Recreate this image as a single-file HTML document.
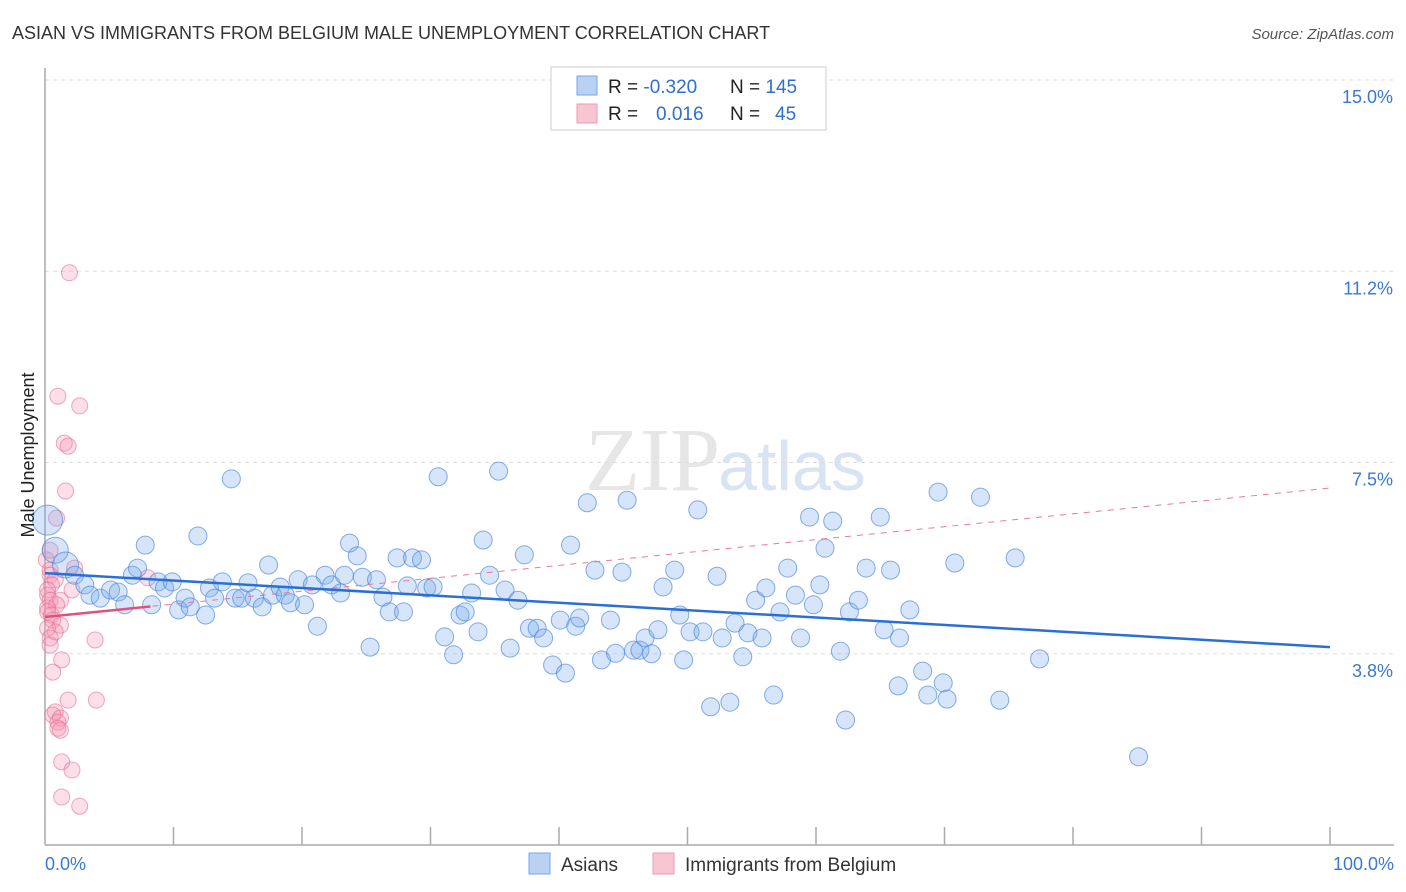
<!DOCTYPE html>
<html><head><meta charset="utf-8">
<style>
body{margin:0;background:#fff;font-family:"Liberation Sans",sans-serif;}
#wrap{position:relative;width:1406px;height:892px;overflow:hidden;}
</style></head>
<body>
<div id="wrap">
<svg id="svg" width="1406" height="892" xmlns="http://www.w3.org/2000/svg">
<text x="12" y="39" font-size="18" fill="#333">ASIAN VS IMMIGRANTS FROM BELGIUM MALE UNEMPLOYMENT CORRELATION CHART</text>
<text x="1394" y="39" font-size="15" fill="#555" font-style="italic" text-anchor="end">Source: ZipAtlas.com</text>
<text x="720" y="490" font-size="90" fill="#e6e6e6" font-family="Liberation Serif,serif" text-anchor="end">ZIP</text>
<text x="718" y="490" font-size="70" fill="#d8e4f3">atlas</text>
<g id="grid"></g>
<g id="axes"></g>
<g id="marks"></g>
<text transform="translate(34,455) rotate(-90)" font-size="18" fill="#222" text-anchor="middle">Male Unemployment</text>
<text x="45" y="870" font-size="18" fill="#3a78d4">0.0%</text>
<text x="1394" y="870" font-size="18" fill="#3a78d4" text-anchor="end">100.0%</text>
<g>
<rect x="551" y="67" width="275" height="63" fill="#fff" stroke="#ccc"/>
<rect x="577" y="76" width="20" height="19" fill="#b9d2f3" stroke="#7aa6e0"/>
<rect x="577" y="104" width="20" height="19" fill="#f8c6d3" stroke="#ee9ab0"/>
<text x="608" y="93" font-size="19" fill="#222">R = <tspan fill="#2f6fd1">-0.320</tspan><tspan x="730">N = </tspan><tspan fill="#2f6fd1">145</tspan></text>
<text x="608" y="120" font-size="19" fill="#222">R = <tspan x="656" fill="#2f6fd1">0.016</tspan><tspan x="730">N = </tspan><tspan x="775" fill="#2f6fd1">45</tspan></text>
</g>
<g>
<rect x="529" y="853" width="21" height="21" fill="#b9d2f3" stroke="#7aa6e0"/>
<text x="561" y="871" font-size="19" fill="#333">Asians</text>
<rect x="653" y="853" width="21" height="21" fill="#f8c6d3" stroke="#ee9ab0"/>
<text x="685" y="871" font-size="19" fill="#333">Immigrants from Belgium</text>
</g>
</svg>
</div>
<script>
const yTicks=[3.75,7.5,11.25,15.0];
const yTickLabels=["3.8%","7.5%","11.2%","15.0%"];
const blueX=[0.2,0.8,1.6,2.3,3.1,3.5,4.3,5.1,5.7,6.2,6.8,7.2,7.8,8.3,8.8,9.3,9.9,10.4,10.9,11.3,11.9,12.5,12.8,13.2,13.8,14.5,14.8,15.3,15.8,16.3,16.9,17.4,17.7,18.3,18.7,19.1,19.7,20.2,20.8,21.2,21.8,22.3,23.0,23.3,23.7,24.3,24.7,25.3,25.8,26.3,26.8,27.4,27.9,28.2,28.6,29.3,29.7,30.2,30.6,31.1,31.8,32.3,32.7,33.2,33.7,34.1,34.6,35.3,35.8,36.2,36.8,37.3,37.7,38.3,38.8,39.5,40.1,40.5,40.9,41.3,41.6,42.2,42.8,43.3,44.0,44.4,44.9,45.3,45.8,46.3,46.7,47.2,47.7,48.1,49.0,49.4,49.7,50.2,50.8,51.2,51.8,52.3,52.7,53.3,53.7,54.3,54.7,55.3,55.8,56.1,56.7,57.2,57.8,58.4,58.8,59.5,59.8,60.3,60.7,61.3,61.9,62.3,62.6,63.3,63.9,65.0,65.3,65.8,66.4,66.5,67.3,68.3,68.7,69.5,69.9,70.2,70.8,72.8,74.3,75.5,77.4,85.1];
const blueY=[6.37,5.78,5.49,5.29,5.10,4.90,4.84,5.00,4.96,4.71,5.29,5.43,5.88,4.71,5.16,5.04,5.16,4.61,4.84,4.67,6.06,4.51,5.04,4.84,5.16,7.18,4.84,4.84,5.14,4.84,4.67,5.49,4.90,5.06,4.90,4.75,5.20,4.71,5.10,4.29,5.29,5.10,4.94,5.29,5.92,5.67,5.25,3.88,5.20,4.86,4.57,5.63,4.57,5.08,5.63,5.59,5.04,5.06,7.22,4.08,3.73,4.51,4.57,4.94,4.18,5.98,5.29,7.33,5.00,3.86,4.80,5.69,4.25,4.25,4.06,3.53,4.41,3.37,5.88,4.29,4.45,6.71,5.39,3.63,4.41,3.76,5.35,6.76,3.82,3.82,4.06,3.75,4.22,5.06,5.39,4.51,3.63,4.18,6.57,4.18,2.71,5.27,4.06,2.80,4.35,3.69,4.16,4.80,4.06,5.04,2.94,4.57,5.43,4.90,4.06,6.43,4.71,5.10,5.82,6.35,3.80,2.45,4.57,4.80,5.43,6.43,4.22,5.39,3.12,4.06,4.61,3.41,2.94,6.92,3.18,2.86,5.53,6.82,2.84,5.63,3.65,1.73];
const pinkX=[1.9,1.0,2.7,1.5,1.8,1.6,0.9,0.4,0.1,0.4,2.3,0.4,0.8,8.0,0.5,0.2,2.1,0.2,0.4,1.2,0.9,0.2,0.2,0.5,0.6,1.2,0.2,0.8,0.4,3.9,0.4,1.3,0.6,1.8,4.0,0.8,0.6,1.2,1.0,1.0,1.2,1.3,2.1,1.3,2.7];
const pinkY=[11.22,8.80,8.61,7.88,7.82,6.94,6.41,5.78,5.59,5.39,5.43,5.29,5.20,5.24,5.10,5.00,5.00,4.90,4.80,4.80,4.71,4.65,4.57,4.51,4.41,4.31,4.25,4.18,4.06,4.02,3.92,3.63,3.39,2.84,2.84,2.61,2.55,2.49,2.41,2.29,2.25,1.63,1.47,0.94,0.76];
const blueTrend=[5.33,3.88];
const pinkTrend=[4.47,7.0];
const pinkSolidEnd=8.2;

const X0=45,X1=1330,YB=845,PX=51;
const sx=v=>X0+(X1-X0)*v/100;
const sy=v=>YB-v*PX;
const NS="http://www.w3.org/2000/svg";
function mk(tag,attrs,parent){const e=document.createElementNS(NS,tag);for(const k in attrs)e.setAttribute(k,attrs[k]);parent.appendChild(e);return e;}
const grid=document.getElementById('grid'),axes=document.getElementById('axes'),marks=document.getElementById('marks');
yTicks.forEach((t,i)=>{
  const l=mk('line',{x1:X0,x2:1394,y1:sy(t),y2:sy(t),stroke:'#ddd','stroke-dasharray':'4,4'},grid);
  
  
  const tx=mk('text',{x:1393,y:sy(t)+23,'font-size':18,fill:'#3a78d4','text-anchor':'end'},grid);
  tx.textContent=yTickLabels[i];
  
  
});
let a=mk('line',{x1:X0,x2:X0,y1:68,y2:YB,stroke:'#aaa','stroke-width':1.5},axes);


a=mk('line',{x1:X0,x2:1394,y1:YB,y2:YB,stroke:'#aaa','stroke-width':1.5},axes);


for(let i=1;i<=10;i++){
  const t=mk('line',{x1:sx(i*10),x2:sx(i*10),y1:827,y2:YB,stroke:'#aaa','stroke-width':1.5},axes);
  
  
}
pinkX.forEach((x,i)=>{
  const c=mk('circle',{cx:sx(x),cy:sy(pinkY[i]),r:8,fill:'rgba(244,150,178,0.3)',stroke:'rgba(232,110,145,0.6)','stroke-width':1},marks);
  
  
});
blueX.forEach((x,i)=>{
  const r=i==0?15:(i<3?13:9);
  const c=mk('circle',{cx:sx(x),cy:sy(blueY[i]),r:r,fill:'rgba(120,170,235,0.3)',stroke:'rgba(70,130,215,0.65)','stroke-width':1},marks);
  
  
});
let tl=mk('line',{x1:sx(0),y1:sy(pinkTrend[0]),x2:sx(100),y2:sy(pinkTrend[1]),stroke:'#e87a9a','stroke-width':1,'stroke-dasharray':'6,6'},marks);


const pe=pinkTrend[0]+(pinkTrend[1]-pinkTrend[0])*pinkSolidEnd/100;
tl=mk('line',{x1:sx(0),y1:sy(pinkTrend[0]),x2:sx(pinkSolidEnd),y2:sy(pe),stroke:'#e0527c','stroke-width':2.5},marks);


tl=mk('line',{x1:sx(0),y1:sy(blueTrend[0]),x2:sx(100),y2:sy(blueTrend[1]),stroke:'#2a6fd6','stroke-width':2.5},marks);


</script>
</body></html>
